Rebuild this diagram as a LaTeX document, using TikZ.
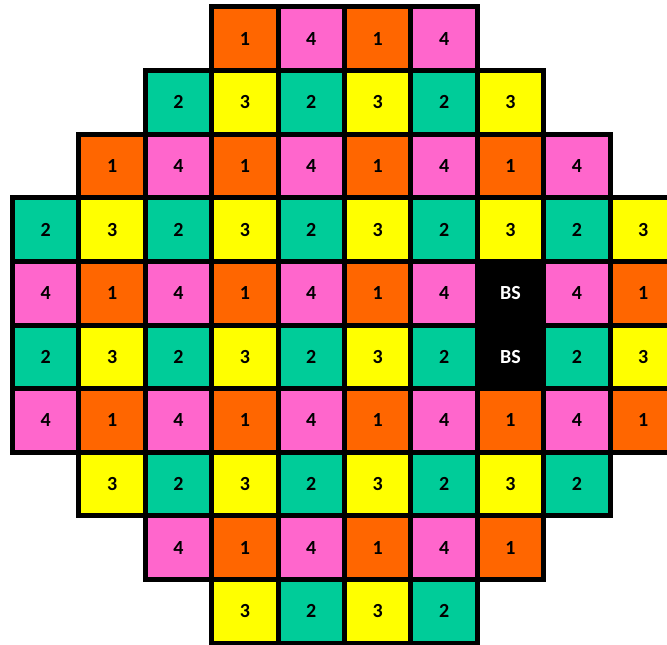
\documentclass[tikz,border=0pt]{standalone}
\usepackage{fontspec}
\setmainfont{Carlito}
\usepackage{xcolor}
\usepackage{tikz}

\definecolor{reuseorange}{HTML}{FF6600}
\definecolor{reusegreen}{HTML}{00CC99}
\definecolor{reuseyellow}{HTML}{FFFF00}
\definecolor{reusepink}{HTML}{FF66CC}

\begin{document}
\begin{tikzpicture}[
  x=66.4pt, y=-63.6pt,
  cell/.style={draw, line width=5pt, minimum width=66.4pt, minimum height=63.6pt, inner sep=0pt, font=\fontsize{20}{22}\selectfont\bfseries},
  cell1/.style={cell, fill=reuseorange},
  cell2/.style={cell, fill=reusegreen},
  cell3/.style={cell, fill=reuseyellow},
  cell4/.style={cell, fill=reusepink},
  cellBS/.style={cell, fill=black, text=white},
]
\useasboundingbox (-0.188,-0.110) rectangle (9.857,10.016);

% row / first column / reuse pattern
\foreach \r/\s/\vals in {0/3/{1,4,1,4},
                         1/2/{2,3,2,3,2,3},
                         2/1/{1,4,1,4,1,4,1,4},
                         3/0/{2,3,2,3,2,3,2,3,2,3},
                         4/0/{4,1,4,1,4,1,4,BS,4,1},
                         5/0/{2,3,2,3,2,3,2,BS,2,3},
                         6/0/{4,1,4,1,4,1,4,1,4,1},
                         7/1/{3,2,3,2,3,2,3,2},
                         8/2/{4,1,4,1,4,1},
                         9/3/{3,2,3,2}}
  \foreach \v [count=\i from 0] in \vals
    \node[cell\v] (c\r-\i) at (\s+\i+0.5, \r+0.5) {\v};

\end{tikzpicture}
\end{document}
